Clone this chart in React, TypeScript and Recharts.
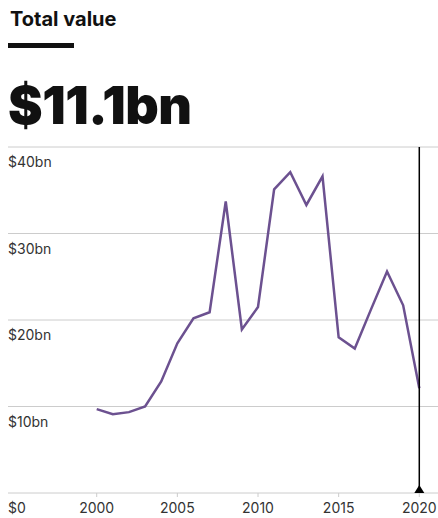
import React from 'react';
import { LineChart, Line, XAxis, YAxis, CartesianGrid, ReferenceLine, ReferenceDot } from 'recharts';

const title = 'Total value';
const headline = '$11.1bn';
const years = [2000, 2001, 2002, 2003, 2004, 2005, 2006, 2007, 2008, 2009, 2010, 2011, 2012, 2013, 2014, 2015, 2016, 2017, 2018, 2019, 2020];
const values = [9.7, 9.1, 9.35, 10.0, 12.9, 17.3, 20.2, 20.9, 33.7, 18.9, 21.5, 35.1, 37.1, 33.3, 36.6, 18.0, 16.7, 21.2, 25.6, 21.7, 12.1];
const xTicks = [2000, 2005, 2010, 2015, 2020];
const yTicks = [0, 10, 20, 30, 40];
const yTickLabels = ['$0', '$10bn', '$20bn', '$30bn', '$40bn'];
const markerYear = 2020;

const data = years.map((y, i) => ({ year: y, value: values[i] }));

const FONT = 'Inter, "Noto Sans", sans-serif';

const renderYTick = (props: any) => {
  const { y, payload } = props;
  const idx = yTicks.indexOf(payload.value);
  return (
    <text key={`yt-${payload.value}`} x={8} y={y + 20} fill="#333" fontSize={14} fontFamily={FONT} textAnchor="start">
      {yTickLabels[idx]}
    </text>
  );
};

const Triangle = (props: any) => {
  const { cx, cy } = props;
  return <path d={`M${cx - 5},${cy} L${cx + 5},${cy} L${cx},${cy - 8} Z`} fill="#000" />;
};

export default function App() {
  return (
    <div style={{ position: 'absolute', left: 0, top: 0, width: 438, height: 518, background: '#fff', fontFamily: FONT }}>
      <div style={{ position: 'absolute', left: 10, top: 7, fontSize: 20, fontWeight: 700, color: '#111', letterSpacing: 0 }}>{title}</div>
      <div style={{ position: 'absolute', left: 8, top: 43, width: 66, height: 5, background: '#111' }} />
      <div style={{ position: 'absolute', left: 8, top: 70, fontSize: 52, fontWeight: 900, color: '#111', letterSpacing: -0.5, lineHeight: '72px', whiteSpace: 'nowrap' }}>{headline}</div>
      <div style={{ position: 'absolute', left: 0, top: 0 }}>
        <LineChart width={438} height={518} data={data} margin={{ top: 147, right: 0, bottom: 0, left: 7 }}>
          <CartesianGrid vertical={false} stroke="#cccccc" strokeWidth={1} />
          <XAxis
            dataKey="year"
            type="number"
            domain={[1994.5, 2021.16]}
            allowDataOverflow
            ticks={xTicks}
            height={25}
            axisLine={false}
            tickLine={{ stroke: '#cccccc' }}
            tickSize={4}
            tickMargin={6}
            tick={{ fill: '#333', fontSize: 14, fontFamily: FONT }}
          />
          <YAxis
            type="number"
            domain={[0, 40]}
            ticks={yTicks}
            width={1}
            axisLine={false}
            tickLine={false}
            tick={renderYTick}
            interval={0}
            allowDataOverflow
          />
          <Line type="linear" dataKey="value" stroke="#6c5190" strokeWidth={2.5} dot={false} isAnimationActive={false} />
          <ReferenceLine x={markerYear} stroke="#000" strokeWidth={1.5} />
          <ReferenceDot x={markerYear} y={0} shape={<Triangle />} />
        </LineChart>
      </div>
    </div>
  );
}
